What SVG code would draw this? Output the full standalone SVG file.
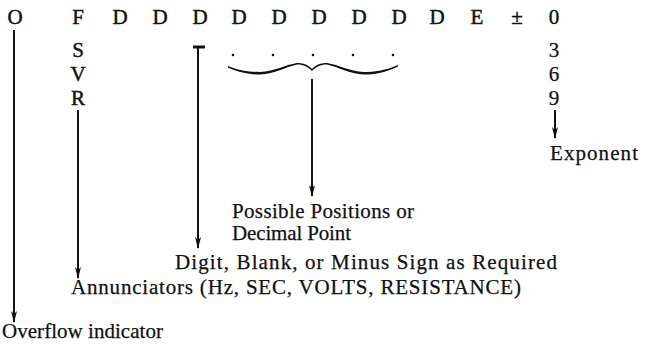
<svg xmlns="http://www.w3.org/2000/svg" width="647" height="344" viewBox="0 0 647 344">
<style>
text{font-family:"Liberation Serif","Times New Roman",serif;font-size:21px;fill:#111;stroke:#111;stroke-width:0.25}
.c{text-anchor:middle}
.b{stroke-width:0.45}
.ln{stroke:#111;stroke-width:2;fill:none}
</style>
<defs>
<marker id="ah" markerWidth="12" markerHeight="6" refX="11" refY="3" orient="auto" markerUnits="userSpaceOnUse" viewBox="0 0 12 6">
<path d="M0,0 L12,3 L0,6 L3,3 Z" fill="#111"/>
</marker>
</defs>
<rect width="647" height="344" fill="#fff"/>
<g id="top-row">
<text class="c b" x="15" y="24">O</text>
<text class="c b" x="78" y="24">F</text>
<text class="c b" x="120" y="24">D</text>
<text class="c b" x="160" y="24">D</text>
<text class="c b" x="200" y="24">D</text>
<text class="c b" x="239" y="24">D</text>
<text class="c b" x="279" y="24">D</text>
<text class="c b" x="319" y="24">D</text>
<text class="c b" x="359" y="24">D</text>
<text class="c b" x="399" y="24">D</text>
<text class="c b" x="437" y="24">D</text>
<text class="c b" x="477" y="24">E</text>
<text class="c b" x="517" y="24">±</text>
<text class="c b" x="554" y="24">0</text>
</g>
<g id="annunciator-column">
<text class="c b" x="78" y="57">S</text>
<text class="c b" x="78" y="81">V</text>
<text class="c b" x="78" y="105">R</text>
</g>
<g id="exponent-column">
<text class="c" x="554" y="57">3</text>
<text class="c" x="554" y="81">6</text>
<text class="c" x="554" y="105">9</text>
</g>
<g id="minus-sign">
<line x1="193" y1="47" x2="205" y2="47" stroke="#111" stroke-width="3"/>
</g>
<g id="decimal-positions">
<circle cx="233" cy="55" r="1.3" fill="#111"/>
<circle cx="273" cy="55" r="1.3" fill="#111"/>
<circle cx="313" cy="55" r="1.3" fill="#111"/>
<circle cx="353" cy="55" r="1.3" fill="#111"/>
<circle cx="393" cy="55" r="1.3" fill="#111"/>
<path d="M228,66 C240,71 250,72 260,72 C275,71 285,65 297,63 C304,63 308,65 312,69 C316,65 320,63 327,63 C339,65 349,71 364,72 C374,72 384,71 398,65 L398,66.5 C384,73 374,74.5 364,74.5 C349,74 339,67 327,64.5 C320,64.5 316,67 312,71 C308,67 304,64.5 297,64.5 C285,67 275,74 260,74.5 C250,74.5 240,73 228,67.5 Z" fill="#111"/>
</g>
<g id="labels">
<text x="550" y="160" textLength="88" lengthAdjust="spacing">Exponent</text>
<text x="232" y="218" textLength="182" lengthAdjust="spacing">Possible Positions or</text>
<text x="232" y="240" textLength="119" lengthAdjust="spacing">Decimal Point</text>
<text x="175" y="269" textLength="382" lengthAdjust="spacing">Digit, Blank, or Minus Sign as Required</text>
<text x="71" y="294" textLength="450" lengthAdjust="spacing">Annunciators (Hz, SEC, VOLTS, RESISTANCE)</text>
<text x="2" y="338" textLength="161" lengthAdjust="spacing">Overflow indicator</text>
</g>
<g id="connectors">
<line class="ln" x1="14" y1="30" x2="14" y2="322" marker-end="url(#ah)"/>
<line class="ln" x1="78" y1="110" x2="78" y2="278" marker-end="url(#ah)"/>
<line class="ln" x1="198" y1="48" x2="198" y2="248" marker-end="url(#ah)"/>
<line class="ln" x1="312" y1="79" x2="312" y2="196" marker-end="url(#ah)"/>
<line class="ln" x1="555" y1="110" x2="555" y2="138" marker-end="url(#ah)"/>
</g>
</svg>
